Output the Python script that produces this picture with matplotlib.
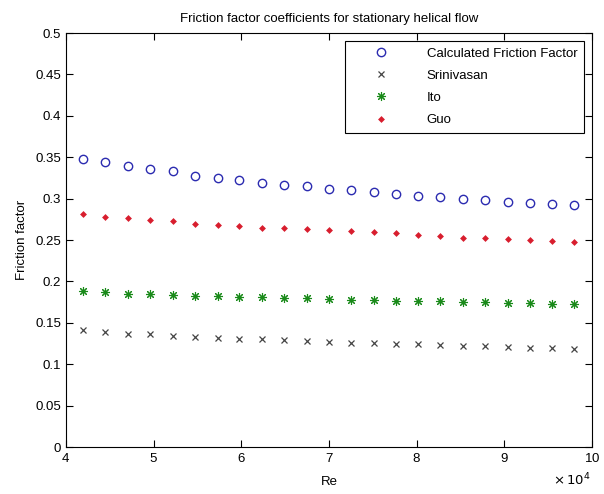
import numpy as np
import matplotlib.pyplot as plt
from matplotlib.ticker import ScalarFormatter

plt.rcParams['font.family'] = ['Liberation Sans', 'DejaVu Sans']
plt.rcParams['font.size'] = 9.5

# Reynolds numbers
re = [42000, 44500, 47100, 49600, 52200, 54700, 57300, 59800, 62400, 64900, 67500, 70000,
      72500, 75100, 77600, 80200, 82700, 85300, 87800, 90400, 92900, 95500, 98000]

calculated = [0.348, 0.344, 0.340, 0.336, 0.333, 0.328, 0.325, 0.322, 0.319, 0.317, 0.315, 0.312,
              0.310, 0.308, 0.306, 0.303, 0.302, 0.300, 0.299, 0.296, 0.295, 0.293, 0.292]
srinivasan = [0.141, 0.139, 0.137, 0.136, 0.134, 0.133, 0.132, 0.131, 0.130, 0.129, 0.128, 0.127,
              0.126, 0.126, 0.125, 0.124, 0.123, 0.122, 0.122, 0.121, 0.120, 0.120, 0.119]
ito = [0.188, 0.187, 0.185, 0.185, 0.184, 0.182, 0.182, 0.181, 0.181, 0.180, 0.180, 0.179,
       0.178, 0.178, 0.177, 0.176, 0.176, 0.175, 0.175, 0.174, 0.174, 0.173, 0.173]
guo = [0.281, 0.278, 0.277, 0.274, 0.273, 0.270, 0.268, 0.267, 0.265, 0.264, 0.263, 0.262,
       0.261, 0.260, 0.258, 0.256, 0.255, 0.253, 0.252, 0.251, 0.250, 0.249, 0.248]

fig = plt.figure(figsize=(6.04, 4.94), dpi=100)
ax = fig.add_axes([0.109, 0.095, 0.871, 0.838])

ax.plot(re, calculated, 'o', mfc='none', mec='#2b2bb0', ms=6, mew=1.0, label='Calculated Friction Factor')
ax.plot(re, srinivasan, 'x', color='#444444', ms=4.5, mew=0.9, label='Srinivasan')
ax.plot(re, ito, marker=(8, 2, 0), ls='none', color='#1a8a1a', ms=6.5, mew=0.8, label='Ito')
ax.plot(re, guo, 'D', color='#d81e2e', ms=3.5, mew=0, label='Guo')

ax.set_xlim(40000, 100000)
ax.set_ylim(0, 0.5)
ax.set_yticks(np.arange(0, 0.51, 0.05))
ax.set_yticklabels(['0', '0.05', '0.1', '0.15', '0.2', '0.25', '0.3', '0.35', '0.4', '0.45', '0.5'])

fmt = ScalarFormatter(useMathText=True)
fmt.set_powerlimits((4, 4))
ax.xaxis.set_major_formatter(fmt)
ax.xaxis.get_offset_text().set_visible(False)
fig.text(0.978, 0.012, r'$\times\,10^4$', ha='right', va='bottom', fontsize=9.5)

ax.tick_params(direction='in', top=True, right=True, length=5, width=0.8)
for s in ax.spines.values():
    s.set_linewidth(0.8)

ax.set_xlabel('Re', labelpad=8)
ax.set_ylabel('Friction factor', labelpad=5)
ax.set_title('Friction factor coefficients for stationary helical flow', fontsize=9.5, pad=8)

leg = ax.legend(loc='upper right', fancybox=False, edgecolor='black', framealpha=1,
                borderaxespad=0.6, handlelength=4.5, handletextpad=1.2, labelspacing=0.75,
                borderpad=0.5)
leg.get_frame().set_linewidth(0.8)

fig.savefig('out.png', dpi=100)
